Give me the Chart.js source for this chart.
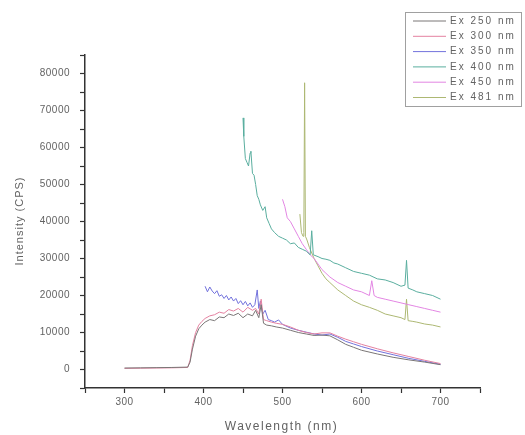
<!DOCTYPE html>
<html lang="en">
<head>
  <meta charset="UTF-8">
  <title>Emission spectra</title>
  <script src="https://cdn.jsdelivr.net/npm/chart.js@4/dist/chart.umd.min.js"></script>
  <style>
    html, body { margin: 0; padding: 0; background: #fff; }
    #myChart { display: block; }
  </style>
</head>
<body>
  <canvas id="myChart" width="525" height="435"></canvas>
<script>
  // data
  const labels = ['Ex 250 nm', 'Ex 300 nm', 'Ex 350 nm', 'Ex 400 nm', 'Ex 450 nm', 'Ex 481 nm'];
  const colors = ['#7a7676', '#e481a0', '#7272dc', '#5aae9f', '#e386e3', '#adb873'];

  const wl250 = [300,320,340,360,380,383,386,390,394,398,402,408,414,420,426,432,438,444,450,456,462,466,470,473,476,480,486,492,500,510,520,530,540,550,560,570,580,590,600,620,640,660,680,700];
  const int250 = [400,450,500,550,650,2000,5500,9000,11000,12000,12800,13500,13200,14200,14000,15000,14600,15200,14000,15000,14500,16000,14000,17500,12500,12000,11800,11500,11200,10600,10000,9600,9200,9300,9100,8000,6800,6000,5200,4200,3300,2600,2000,1300];

  const wl300 = [300,320,340,360,380,383,386,390,394,398,402,408,414,420,426,432,438,444,450,456,462,466,470,473,476,480,486,492,500,510,520,530,540,550,560,570,580,590,600,620,640,660,680,700];
  const int300 = [300,350,400,450,550,2500,6500,10000,12000,13000,13800,14500,14800,15500,15200,16200,15800,16500,15500,16800,16000,16500,15000,19000,13500,13200,12800,12500,12200,11500,10600,10000,9600,9900,9900,9000,8200,7500,6800,5600,4500,3500,2500,1600];

  const wl350 = [402,405,408,411,414,417,420,423,426,429,432,435,438,441,444,447,450,453,456,459,462,465,468,470,472,475,478,482,486,490,495,500,510,520,530,540,550,560,570,580,590,600,620,640,660,680,700];
  const int350 = [22500,21000,22300,21200,20500,21300,19800,20200,19200,20000,18800,19600,18500,19200,17800,18600,17500,18400,17200,18000,16800,17500,21500,16500,18500,15000,16000,13500,13200,12800,13400,12200,11200,10600,10100,9600,9300,9600,8700,7600,6900,6200,5000,4000,3000,2200,1400];

  const wl400 = [450,451,453,455,457,459,460,462,464,466,468,470,472,475,478,480,483,486,490,495,500,505,510,515,520,525,530,535,537,539,545,550,555,560,565,570,580,590,600,610,620,630,640,650,655,657,659,665,670,680,690,700];
  const int400 = [68000,63000,57000,56000,55000,58500,59000,53000,52500,50000,47000,46000,44500,43000,44000,41000,39500,38000,37000,36000,35500,35000,34000,34200,33000,32500,32000,31000,37500,31000,30500,30000,29800,29500,28800,28500,27500,26500,26000,25500,24500,24200,23500,22500,22800,29500,22000,21500,21000,20500,20000,19000];

  const wl450 = [500,503,506,510,515,520,525,530,535,540,545,550,555,560,570,580,590,600,610,613,616,620,630,640,650,660,670,680,690,700];
  const int450 = [46000,44000,41000,40000,38000,36000,34000,32500,31000,30000,28500,27000,26000,25000,23500,22500,21500,21000,20000,24000,20000,19500,19000,18500,18000,17500,17000,16500,16000,15500];

  const wl481 = [522,524,526,527,528,529,531,534,540,545,550,555,560,570,580,590,600,610,620,630,640,650,655,657,659,665,670,680,690,700];
  const int481 = [42000,37000,36000,37000,77500,36000,35000,33000,30000,28000,26000,24500,23500,21500,20000,18500,17500,16800,16000,15000,14500,14000,13500,19000,13200,13000,12800,12300,12000,11500];

  const xTicks = [300, 400, 500, 600, 700];
  const yTicks = [0, 10000, 20000, 30000, 40000, 50000, 60000, 70000, 80000];

  const wls = [wl250, wl300, wl350, wl400, wl450, wl481];
  const ints = [int250, int300, int350, int400, int450, int481];

  const datasets = labels.map((lab, i) => ({
    label: lab,
    data: wls[i].map((w, j) => ({ x: w, y: ints[i][j] })),
    borderColor: colors[i],
    borderWidth: 1,
    pointRadius: 0,
    tension: 0,
    fill: false
  }));

  const txt = '#626262';
  const font = 'Liberation Sans, Arial, sans-serif';

  // legend box + axis titles drawn by hand (letter spaced like the original)
  const extras = {
    id: 'extras',
    beforeDraw(chart) {
      chart.ctx.letterSpacing = '0.5px';
    },
    afterDraw(chart) {
      const ctx = chart.ctx;
      const area = chart.chartArea;
      ctx.save();
      ctx.fillStyle = txt;
      ctx.letterSpacing = '1.5px';
      ctx.font = '12px ' + font;
      ctx.textAlign = 'center';
      ctx.textBaseline = 'middle';
      ctx.fillText('Wavelength (nm)', (area.left + area.right) / 2 - 1, 427);
      ctx.letterSpacing = '1px';
      ctx.font = '11px ' + font;
      ctx.translate(20, 221);
      ctx.rotate(-Math.PI / 2);
      ctx.fillText('Intensity (CPS)', 0, 0);
      ctx.restore();

      ctx.save();
      ctx.strokeStyle = '#a0a0a0';
      ctx.lineWidth = 1;
      ctx.strokeRect(405.5, 12.5, 116, 94);
      ctx.font = '10px ' + font;
      ctx.letterSpacing = '2px';
      ctx.textBaseline = 'middle';
      ctx.textAlign = 'left';
      chart.data.datasets.forEach((ds, i) => {
        const y = 21 + i * 15.3;
        ctx.strokeStyle = ds.borderColor;
        ctx.beginPath();
        ctx.moveTo(413, y);
        ctx.lineTo(446, y);
        ctx.stroke();
        ctx.fillStyle = txt;
        ctx.fillText(ds.label, 450, y);
      });
      ctx.restore();
    }
  };

  const ctx = document.getElementById('myChart').getContext('2d');
  const myChart = new Chart(ctx, {
    type: 'line',
    data: { datasets: datasets },
    plugins: [extras],
    options: {
      responsive: false,
      animation: false,
      devicePixelRatio: 1,
      layout: { padding: { left: 0, right: 45, top: 55, bottom: 0 } },
      plugins: { legend: { display: false }, tooltip: { enabled: false } },
      scales: {
        x: {
          type: 'linear',
          min: 250,
          max: 750,
          afterFit: s => { s.height = 47; },
          afterBuildTicks: s => { s.ticks = []; for (let v = 250; v <= 750; v += 50) s.ticks.push({ value: v }); },
          grid: { drawOnChartArea: false, drawTicks: true, tickLength: 5, tickColor: '#333', tickWidth: 1.2 },
          border: { display: true, color: '#333', width: 1.5 },
          ticks: {
            autoSkip: false,
            maxRotation: 0,
            padding: 3,
            color: txt,
            font: { family: font, size: 10 },
            callback: v => xTicks.includes(v) ? String(v) : ''
          }
        },
        y: {
          type: 'linear',
          min: -5000,
          max: 85000,
          afterFit: s => { s.width = 85; },
          afterBuildTicks: s => { s.ticks = []; for (let v = -5000; v <= 85000; v += 5000) s.ticks.push({ value: v }); },
          grid: { drawOnChartArea: false, drawTicks: true, tickLength: 5, tickColor: '#333', tickWidth: 1.2 },
          border: { display: true, color: '#333', width: 1.5 },
          ticks: {
            autoSkip: false,
            padding: 10,
            color: txt,
            font: { family: font, size: 10 },
            callback: v => yTicks.includes(v) ? String(v) : ''
          }
        }
      }
    }
  });
</script>
</body>
</html>
